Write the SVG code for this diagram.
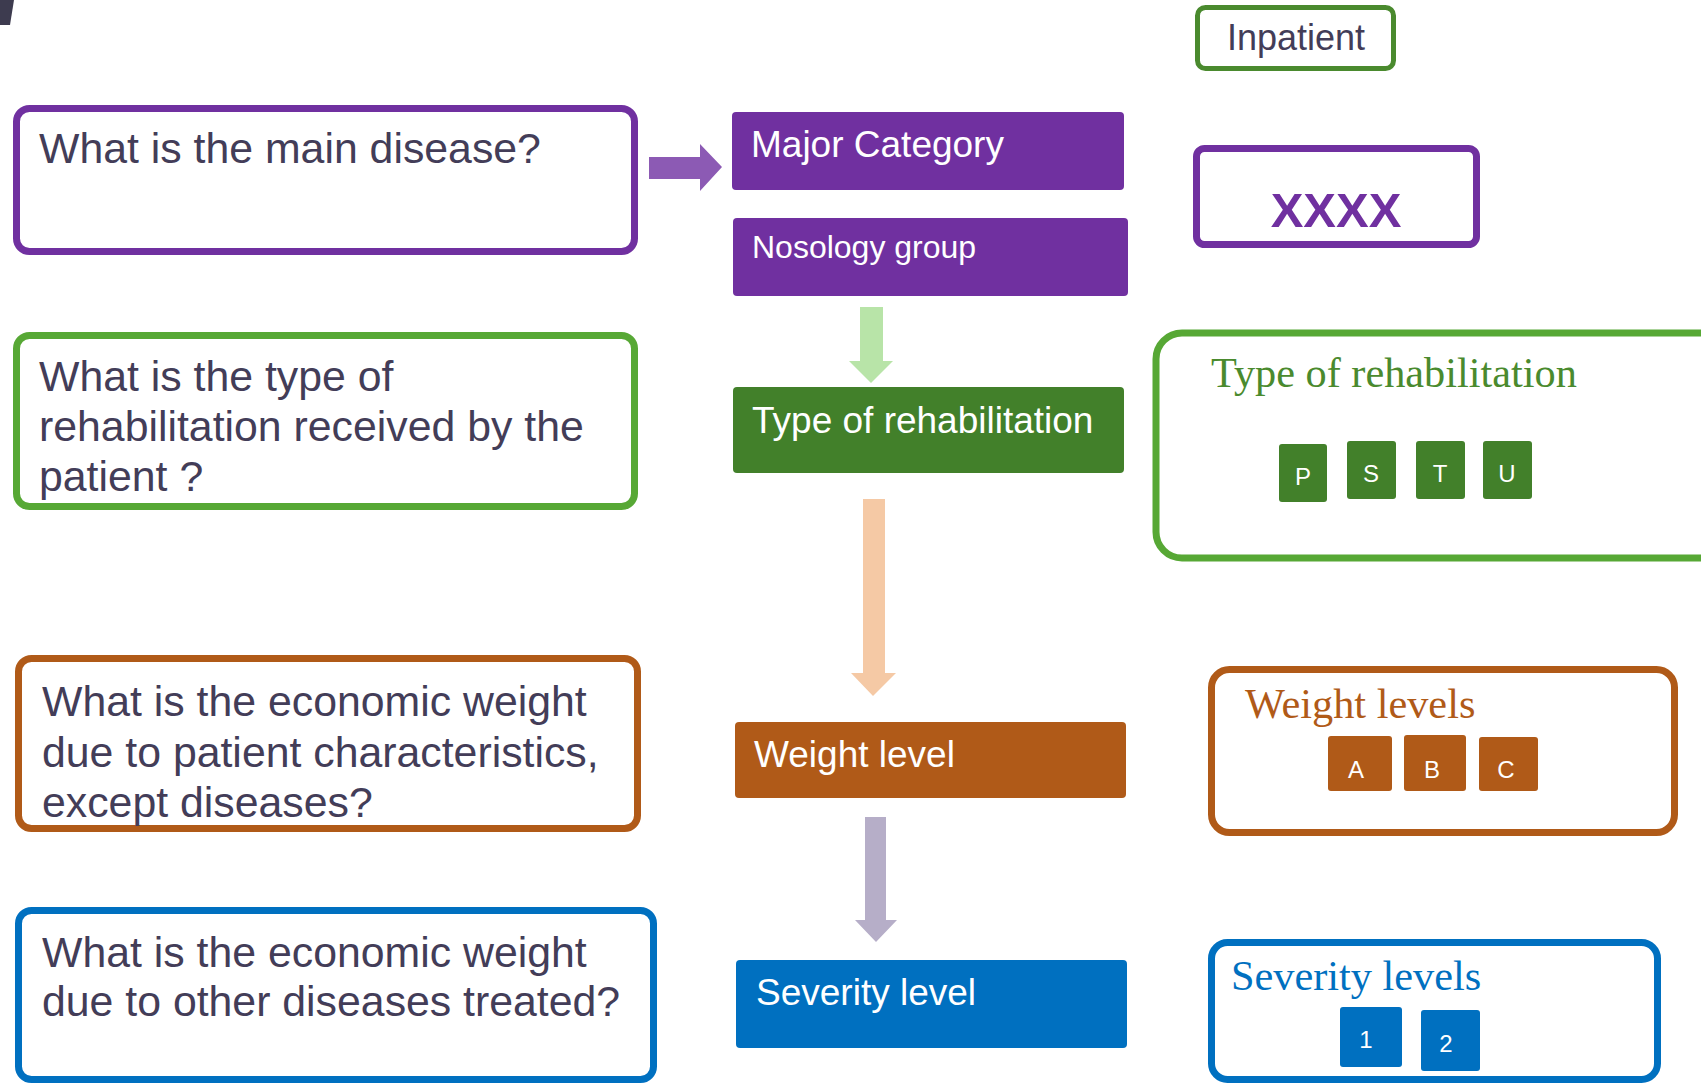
<svg xmlns="http://www.w3.org/2000/svg" width="1701" height="1083" viewBox="0 0 1701 1083">
<style>
.q{fill:#fff;stroke-width:7}
.qt{font-family:"Liberation Sans",Arial,sans-serif;font-size:42.8px;fill:#433d58}
.mid{font-family:"Liberation Sans",Arial,sans-serif;font-size:37px;fill:#fff}
.ser{font-family:"Liberation Serif","Times New Roman",serif;font-size:42.3px}
.sq{font-family:"Liberation Sans",Arial,sans-serif;font-size:24px;fill:#fff;text-anchor:middle}
</style>
<rect width="1701" height="1083" fill="#fff"/>
<polygon points="0,0 14,0 10,25 0,25" fill="#3d3b4f"/>

<g id="q1"><rect class="q" x="16.5" y="108.5" width="618" height="143" rx="13" stroke="#7030a0"/>
<text class="qt" x="39" y="163">What is the main disease?</text></g>
<g id="q2"><rect class="q" x="16.5" y="335.5" width="618" height="171" rx="13" stroke="#57a835"/>
<text class="qt" x="39" y="391">What is the type of</text>
<text class="qt" x="39" y="441">rehabilitation received by the</text>
<text class="qt" x="39" y="491">patient ?</text></g>
<g id="q3"><rect class="q" x="18.5" y="658.5" width="619" height="170" rx="13" stroke="#b05a18"/>
<text class="qt" x="42" y="716">What is the economic weight</text>
<text class="qt" x="42" y="767">due to patient characteristics,</text>
<text class="qt" x="42" y="817">except diseases?</text></g>
<g id="q4"><rect class="q" x="18.5" y="910.5" width="635" height="169" rx="13" stroke="#0070c0"/>
<text class="qt" x="42" y="967">What is the economic weight</text>
<text class="qt" x="42" y="1016">due to other diseases treated?</text></g>

<g id="major"><rect x="732" y="112" width="392" height="78" rx="4" fill="#7030a0"/>
<text class="mid" x="751" y="157">Major Category</text></g>
<g id="nosology"><rect x="733" y="218" width="395" height="78" rx="4" fill="#7030a0"/>
<text class="mid" x="752" y="258" style="font-size:32px">Nosology group</text></g>
<g id="rehab"><rect x="733" y="387" width="391" height="86" rx="4" fill="#42802a"/>
<text class="mid" x="752" y="433">Type of rehabilitation</text></g>
<g id="weight"><rect x="735" y="722" width="391" height="76" rx="4" fill="#b05a18"/>
<text class="mid" x="754" y="767">Weight level</text></g>
<g id="severity"><rect x="736" y="960" width="391" height="88" rx="4" fill="#0070c0"/>
<text class="mid" x="756" y="1005">Severity level</text></g>

<g id="inpatient"><rect x="1197.5" y="7.5" width="196" height="61" rx="8" fill="#fff" stroke="#4a8a2e" stroke-width="5"/>
<text x="1227" y="50" style="font-family:'Liberation Sans',Arial,sans-serif;font-size:36px;fill:#433d58">Inpatient</text></g>
<g id="xxxx"><rect x="1196.5" y="148.5" width="280" height="96" rx="8" fill="#fff" stroke="#7030a0" stroke-width="7"/>
<text x="1336" y="227" text-anchor="middle" style="font-family:'Liberation Sans',Arial,sans-serif;font-size:49px;font-weight:bold;fill:#7030a0">XXXX</text></g>

<g id="rehab-panel"><rect x="1156" y="333" width="580" height="225" rx="26" fill="#fff" stroke="#57a835" stroke-width="7"/>
<text class="ser" x="1211" y="387" fill="#4a8a2e">Type of rehabilitation</text>
<rect x="1279" y="444" width="48" height="58" rx="3" fill="#42802a"/><text class="sq" x="1303" y="485">P</text>
<rect x="1347" y="441" width="49" height="58" rx="3" fill="#42802a"/><text class="sq" x="1371" y="482">S</text>
<rect x="1416" y="441" width="49" height="58" rx="3" fill="#42802a"/><text class="sq" x="1440" y="482">T</text>
<rect x="1483" y="441" width="49" height="58" rx="3" fill="#42802a"/><text class="sq" x="1507" y="482">U</text></g>

<g id="weight-panel"><rect x="1211.5" y="669.5" width="463" height="163" rx="18" fill="#fff" stroke="#b05a18" stroke-width="7"/>
<text class="ser" x="1245" y="718" fill="#b05a18">Weight levels</text>
<rect x="1328" y="736" width="64" height="55" rx="3" fill="#b05a18"/><text class="sq" x="1356" y="778">A</text>
<rect x="1404" y="735" width="62" height="56" rx="3" fill="#b05a18"/><text class="sq" x="1432" y="778">B</text>
<rect x="1479" y="737" width="59" height="54" rx="3" fill="#b05a18"/><text class="sq" x="1506" y="778">C</text></g>

<g id="severity-panel"><rect x="1211.5" y="942.5" width="446" height="137" rx="16" fill="#fff" stroke="#0070c0" stroke-width="7"/>
<text class="ser" x="1231" y="990" fill="#0070c0">Severity levels</text>
<rect x="1340" y="1007" width="62" height="60" rx="3" fill="#0070c0"/><text class="sq" x="1366" y="1048">1</text>
<rect x="1421" y="1010" width="59" height="61" rx="3" fill="#0070c0"/><text class="sq" x="1446" y="1052">2</text></g>

<g id="connectors">
<polygon points="649,157 700,157 700,144 722,167 700,191 700,179 649,179" fill="#8c5ab4"/>
<polygon points="860,307 883,307 883,361 893,361 871,383 849,361 860,361" fill="#b8e4a8"/>
<polygon points="863,499 885,499 885,673 896,673 873,696 851,673 863,673" fill="#f5c9a5"/>
<polygon points="865,817 886,817 886,920 897,920 876,942 855,920 865,920" fill="#b6aec8"/>
</g>
</svg>
